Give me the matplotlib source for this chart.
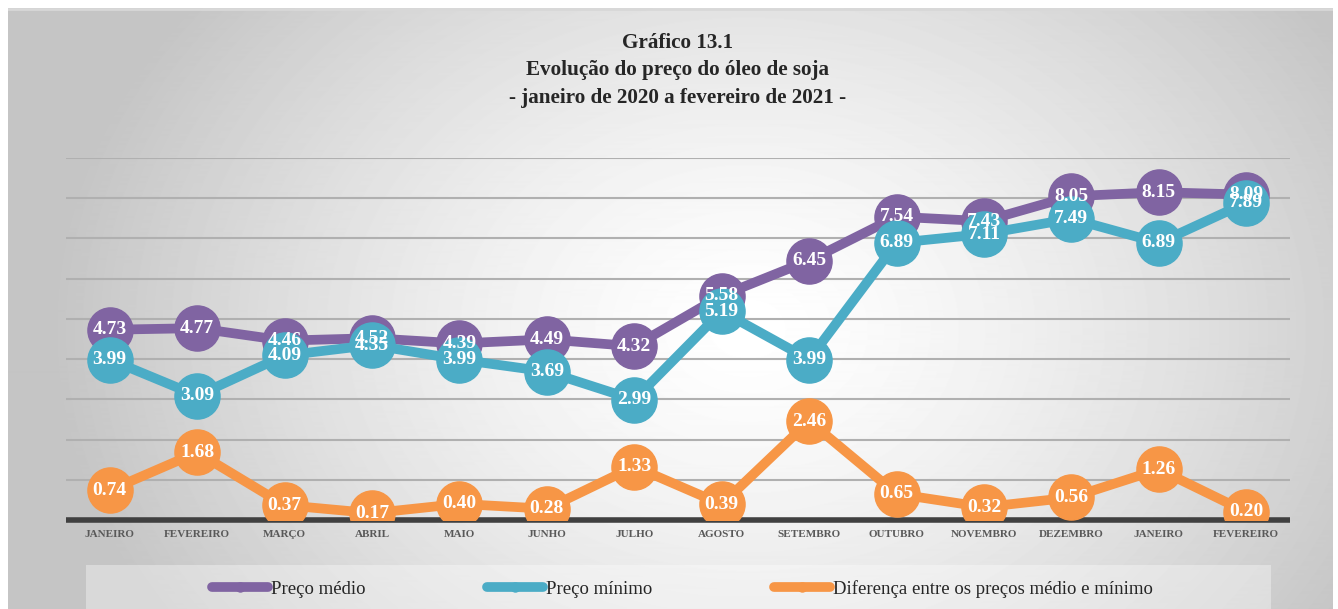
import numpy as np
import matplotlib.pyplot as plt
from matplotlib.patches import Rectangle

meses = ['JANEIRO', 'FEVEREIRO', 'MARÇO', 'ABRIL', 'MAIO', 'JUNHO', 'JULHO',
         'AGOSTO', 'SETEMBRO', 'OUTUBRO', 'NOVEMBRO', 'DEZEMBRO', 'JANEIRO', 'FEVEREIRO']
preco_medio = [4.73, 4.77, 4.46, 4.52, 4.39, 4.49, 4.32, 5.58, 6.45, 7.54, 7.43, 8.05, 8.15, 8.09]
preco_minimo = [3.99, 3.09, 4.09, 4.35, 3.99, 3.69, 2.99, 5.19, 3.99, 6.89, 7.11, 7.49, 6.89, 7.89]
diferenca = [0.74, 1.68, 0.37, 0.17, 0.40, 0.28, 1.33, 0.39, 2.46, 0.65, 0.32, 0.56, 1.26, 0.20]

series = [
    ('Preço médio', preco_medio, '#8064A2'),
    ('Preço mínimo', preco_minimo, '#4BACC6'),
    ('Diferença entre os preços médio e mínimo', diferenca, '#F79646'),
]

serif = ['Liberation Serif', 'DejaVu Serif']
W, H = 1338, 609
fig = plt.figure(figsize=(W / 100, H / 100), dpi=100)
fig.patch.set_facecolor('white')

# radial gradient background frame
bg = fig.add_axes([8 / W, 0, (1333 - 8) / W, 1 - 8 / H])
yy, xx = np.mgrid[0:600, 0:1325]
d = np.sqrt(((xx - 740) / 720.0) ** 2 + ((yy - 320) / 560.0) ** 2)
g = np.clip(1.0 - 0.24 * d ** 1.4, 0.77, 1.0)
bg.imshow(g, cmap='gray', vmin=0, vmax=1, aspect='auto', extent=[0, 1, 0, 1])
bg.plot([0, 1], [0.998, 0.998], color='#d8d8d8', lw=2)
bg.set_xlim(0, 1)
bg.set_ylim(0, 1)
bg.axis('off')

# legend box
fig.patches.append(Rectangle((86 / W, 0), (1271 - 86) / W, (609 - 565) / H,
                             transform=fig.transFigure, facecolor='white',
                             alpha=0.35, edgecolor='none', zorder=1))

ax = fig.add_axes([66 / W, 1 - 520 / H, (1290 - 66) / W, (520 - 158) / H])
ax.patch.set_alpha(0)
x = np.arange(len(meses))
handles = []
for i, (nome, vals, cor) in enumerate(series):
    h, = ax.plot(x, vals, color=cor, lw=7, marker='o', ms=32.5, mec=cor, mfc=cor,
                 solid_capstyle='round', zorder=3 + i, label=nome)
    handles.append(h)
for nome, vals, cor in series:
    for xi, v in zip(x, vals):
        ax.text(xi, v, f'{v:.2f}', ha='center', va='center', color='white',
                fontsize=14, fontweight='bold', family=serif, zorder=10)

ax.set_xlim(-0.5, len(meses) - 0.5)
ax.set_ylim(0, 9)
ax.set_yticks(np.arange(0, 10, 1))
ax.yaxis.grid(True, color='#b0b0b0', lw=1.5)
ax.set_axisbelow(True)
ax.tick_params(axis='y', left=False, labelleft=False)
ax.tick_params(axis='x', length=0, pad=7)
ax.set_xticks(x)
ax.set_xticklabels(meses, family=serif, fontsize=8, fontweight='bold', color='#595959')
for s in ['top', 'right', 'left']:
    ax.spines[s].set_visible(False)
ax.spines['bottom'].set_color('#404040')
ax.spines['bottom'].set_linewidth(4)
ax.spines['bottom'].set_capstyle('butt')
ax.spines['bottom'].set_zorder(2)

titulo = ['Gráfico 13.1', 'Evolução do preço do óleo de soja',
          '- janeiro de 2020 a fevereiro de 2021 -']
for yl, t in zip([43, 70, 98], titulo):
    fig.text(678 / W, 1 - yl / H, t, ha='center', va='center',
             family=serif, fontsize=15.2, fontweight='bold', color='#262626')

leg = fig.legend(handles=handles, loc='center', bbox_to_anchor=(0.51, 1 - 589 / H),
                 ncol=3, frameon=False, prop={'family': serif, 'size': 13.5},
                 handlelength=3, columnspacing=6.5, handletextpad=0.15, markerscale=0.2)
for t in leg.get_texts():
    t.set_color('#262626')

fig.savefig('out.png', dpi=100)
